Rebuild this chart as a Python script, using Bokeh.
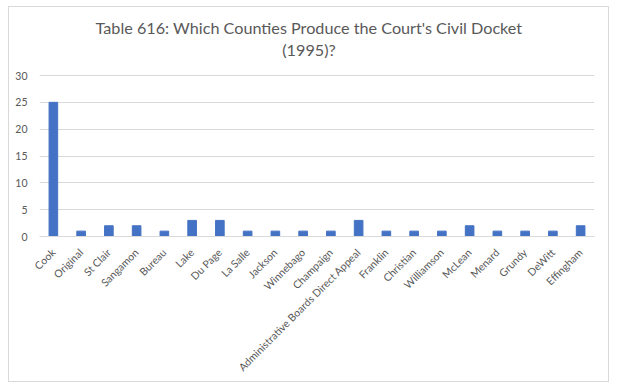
from bokeh.plotting import figure
from bokeh.models import Range1d, FactorRange, FixedTicker, Label
from bokeh.embed import file_html
from bokeh.resources import INLINE
import math

counties = ["Cook", "Original", "St Clair", "Sangamon", "Bureau", "Lake", "Du Page",
            "La Salle", "Jackson", "Winnebago", "Champaign",
            "Administrative Boards Direct Appeal", "Franklin", "Christian",
            "Williamson", "McLean", "Menard", "Grundy", "DeWitt", "Effingham"]
cases = [25, 1, 2, 2, 1, 3, 3, 1, 1, 1, 1, 3, 1, 1, 1, 2, 1, 1, 1, 2]
y_ticks = [0, 5, 10, 15, 20, 25, 30]
title_line1 = "Table 616: Which Counties Produce the Court's Civil Docket"
title_line2 = "(1995)?"

FONT = "Lato"
GRAY = "#595959"

# plot area: 161 px for 0..30, plus 68 px of headroom above for the title
PLOT_H = 161
HEAD = 68
y_top = y_ticks[-1] * (PLOT_H + HEAD) / PLOT_H

p = figure(x_range=FactorRange(*counties, range_padding=0), y_range=Range1d(0, y_top),
           frame_width=555, frame_height=PLOT_H + HEAD, output_backend="svg",
           toolbar_location=None, min_border_left=30, min_border_right=14,
           min_border_top=0, min_border_bottom=145, title=None)
p.styles = {"margin": "6px 0 0 8px", "border": "1px solid #d9d9d9"}

p.vbar(x=counties, top=cases, width=0.31, color="#4472C4")

for txt, ty in ((title_line1, 209), (title_line2, 187)):
    p.add_layout(Label(x=269.5, y=ty, x_units="screen", y_units="screen", text=txt,
                       text_align="center", text_baseline="alphabetic",
                       text_font=FONT, text_font_size="16.2px", text_color=GRAY))

p.outline_line_color = None

p.xgrid.grid_line_color = None
p.ygrid.grid_line_color = "#d9d9d9"
p.yaxis.ticker = FixedTicker(ticks=y_ticks)

p.yaxis.axis_line_color = None
p.yaxis.major_tick_line_color = None
p.yaxis.minor_tick_line_color = None
p.yaxis.major_label_text_font = FONT
p.yaxis.major_label_text_font_size = "10.5px"
p.yaxis.major_label_text_color = GRAY
p.yaxis.major_label_standoff = 6

p.xaxis.axis_line_color = "#d9d9d9"
p.xaxis.major_tick_line_color = None
p.xaxis.minor_tick_line_color = None
p.xaxis.major_label_orientation = math.pi / 4
p.xaxis.major_label_text_font = FONT
p.xaxis.major_label_text_font_size = "10.5px"
p.xaxis.major_label_text_color = GRAY
p.xaxis.major_label_standoff = 8

open("out.html", "w").write(file_html(p, INLINE))
